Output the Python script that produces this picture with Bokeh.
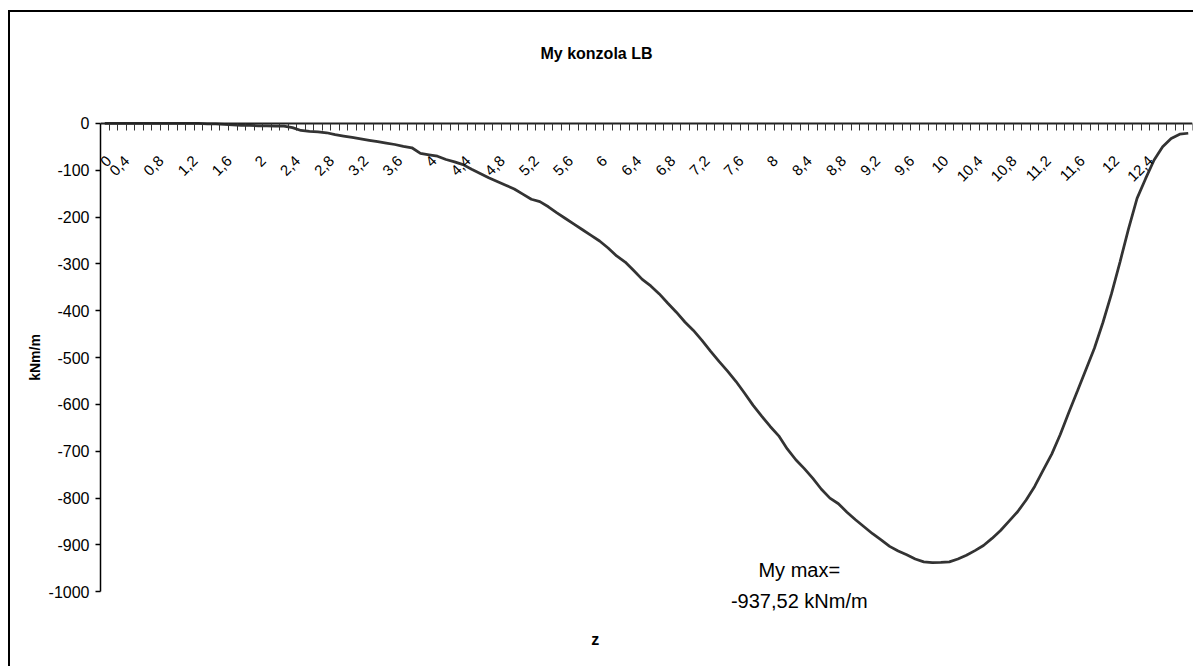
import math
from bokeh.plotting import figure
from bokeh.models import Range1d, FixedTicker, Label
from bokeh.core.properties import value
from bokeh.embed import file_html
from bokeh.resources import INLINE

# ---- data ----
z_cat = [0.0, 0.1, 0.2, 0.3, 0.4, 0.5, 0.6, 0.7, 0.8, 0.9,
         1.0, 1.1, 1.2, 1.3, 1.4, 1.5, 1.6, 1.7, 1.8, 1.9,
         2.0, 2.1, 2.2, 2.3, 2.4, 2.5, 2.6, 2.7, 2.8, 2.9,
         3.0, 3.1, 3.2, 3.3, 3.4, 3.5, 3.6, 3.7, 3.8, 3.9,
         4.0, 4.1, 4.2, 4.3, 4.4, 4.5, 4.6, 4.7, 4.8, 4.9,
         5.0, 5.1, 5.2, 5.3, 5.4, 5.5, 5.6, 5.7, 5.8, 5.9,
         6.0, 6.1, 6.2, 6.3, 6.4, 6.5, 6.6, 6.7, 6.8, 6.9,
         7.0, 7.1, 7.2, 7.3, 7.4, 7.5, 7.6, 7.7, 7.8, 7.9,
         8.0, 8.1, 8.2, 8.3, 8.4, 8.5, 8.6, 8.7, 8.8, 8.9,
         9.0, 9.1, 9.2, 9.3, 9.4, 9.5, 9.6, 9.7, 9.8, 9.9,
         10.0, 10.1, 10.2, 10.3, 10.4, 10.5, 10.6, 10.7, 10.8, 10.9,
         11.0, 11.1, 11.2, 11.3, 11.4, 11.5, 11.6, 11.7, 11.8, 11.9,
         12.0, 12.1, 12.2, 12.3, 12.4, 12.5, 12.6, 12.7]

my_values = [0, 0, 0, 0, 0, 0, 0, 0, 0, 0,
             0, 0, -1, -1, -2, -3, -4, -4, -5, -5,
             -6, -6, -9, -15, -17, -18, -20, -24, -27, -30,
             -33, -36, -39, -42, -45, -49, -52, -64, -67, -70,
             -77, -82, -88, -98, -107, -116, -124, -132, -140, -151,
             -162, -167, -178, -191, -203, -215, -227, -239, -251, -266,
             -283, -296, -314, -333, -347, -364, -384, -403, -424, -442,
             -463, -486, -508, -529, -551, -576, -602, -625, -647, -667,
             -695, -718, -737, -758, -781, -800, -812, -830, -846, -861,
             -876, -889, -903, -913, -921, -930, -936, -937.52, -937, -936,
             -930, -922, -912, -901, -886, -869, -849, -829, -804, -775,
             -740, -706, -664, -617, -572, -526, -480, -425, -364, -296,
             -225, -160, -118, -78, -50, -32, -23, -21]

y_ticks = [-1000, -900, -800, -700, -600, -500, -400, -300, -200, -100, 0]
label_every = 4

title_text = "My konzola LB"
x_title = "z"
y_title = "kNm/m"

SANS = "Liberation Sans"

n = len(z_cat)
idx = list(range(n))

# frame extends above 0 and below -1000 so the y-axis title stays centred
# on the -1000..0 axis and the texts under the curve can be drawn
p = figure(width=1185, height=656, output_backend="svg", toolbar_location=None,
           x_range=Range1d(-0.5, n - 0.5), y_range=Range1d(-1121, 121.5),
           x_axis_location="above",
           min_border_left=90, min_border_right=3, min_border_top=54, min_border_bottom=20,
           background_fill_color="white", border_fill_color="white",
           outline_line_color=None)
p.margin = (10, 0, 0, 8)
p.styles = {"border-left": "2px solid black", "border-top": "2px solid black"}
p.grid.visible = False

# title
p.title.text = title_text
p.title.text_font = SANS
p.title.text_font_style = "bold"
p.title.text_font_size = "16px"
p.title.text_color = "black"
p.title.align = "left"
p.title.offset = 440
p.title.standoff = 10

# x axis (category boundaries as tick marks) crossing at value 0
xa = p.xaxis[0]
xa.fixed_location = 0
xa.ticker = FixedTicker(ticks=[i - 0.5 for i in range(n + 1)], minor_ticks=[])
xa.major_tick_in = 7
xa.major_tick_out = 0
xa.major_tick_line_color = "#333333"
xa.major_tick_line_width = 1
xa.axis_line_color = "#222222"
xa.axis_line_width = 2
xa.major_label_text_color = None
xa.major_label_text_font_size = "1px"
xa.major_label_standoff = 0

# y axis
ya = p.yaxis[0]
ya.ticker = FixedTicker(ticks=y_ticks, minor_ticks=[])
ya.bounds = (min(y_ticks), max(y_ticks))
ya.major_label_overrides = {t: str(t) for t in y_ticks}
ya.major_tick_out = 5
ya.major_tick_in = 0
ya.major_tick_line_width = 1.5
ya.major_tick_line_color = "black"
ya.axis_line_color = "black"
ya.axis_line_width = 1.5
ya.major_label_text_font = SANS
ya.major_label_text_font_size = "16px"
ya.major_label_text_color = "black"
ya.major_label_standoff = 6
ya.axis_label = y_title
ya.axis_label_text_font = SANS
ya.axis_label_text_font_style = "bold"
ya.axis_label_text_font_size = "14px"
ya.axis_label_text_color = "black"
ya.axis_label_standoff = 3

# curve
p.line(idx, my_values, line_color="#333333", line_width=2.75)

# rotated category labels
lab_idx = idx[::label_every]
lab_text = [("%g" % z_cat[i]).replace(".", ",") for i in lab_idx]
lab_xoff = [4 if k == 0 else -12 for k in range(len(lab_idx))]
p.text(x=lab_idx, y=[0] * len(lab_idx), text=lab_text, angle=math.pi / 4,
       text_align="right", text_baseline="middle",
       x_offset=lab_xoff, y_offset=35,
       text_font=value(SANS), text_font_size="15px", text_color="black")

# max annotation
imin = min(idx, key=lambda i: my_values[i])
vmin = my_values[imin]
ann1 = "My max="
ann2 = ("%.2f" % vmin).replace(".", ",") + " kNm/m"
for txt, dy in ((ann1, -7), (ann2, -38)):
    p.add_layout(Label(x=imin, y=vmin, text=txt, x_offset=-133, y_offset=dy,
                       text_align="center", text_baseline="middle",
                       text_font=SANS, text_font_size="20px", text_color="black"))

# x axis title
p.add_layout(Label(x=57.5, y=min(y_ticks), text=x_title, y_offset=-48,
                   text_align="center", text_baseline="middle",
                   text_font=SANS, text_font_style="bold", text_font_size="16px",
                   text_color="black"))

open("out.html", "w").write(file_html(p, INLINE))
